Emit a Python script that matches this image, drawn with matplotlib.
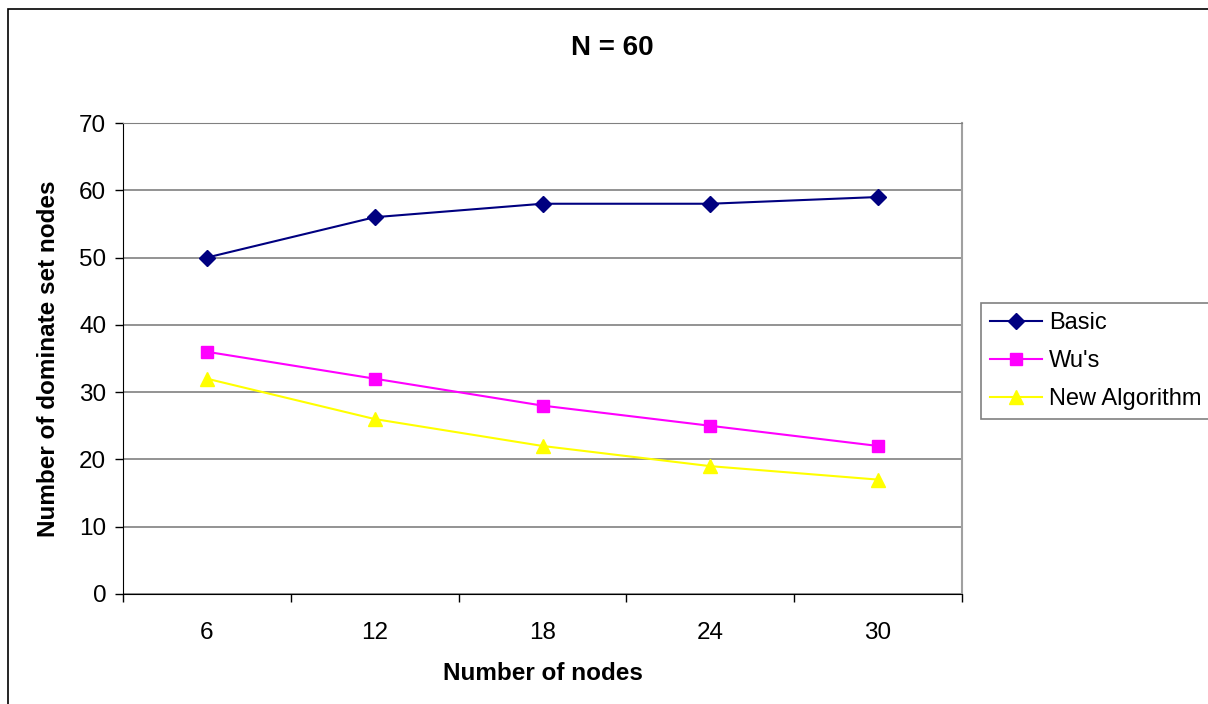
import matplotlib
matplotlib.use('Agg')
import matplotlib.pyplot as plt
from matplotlib.patches import Rectangle

plt.rcParams['font.family'] = ['Liberation Sans', 'DejaVu Sans']

# number of nodes (categories) and dominating set sizes per algorithm
nodes = ['6', '12', '18', '24', '30']
basic = [50, 56, 58, 58, 59]
wus = [36, 32, 28, 25, 22]
new_alg = [32, 26, 22, 19, 17]
y_ticks = [0, 10, 20, 30, 40, 50, 60, 70]


def main():
    fig = plt.figure(figsize=(12.08, 7.04), dpi=100)
    ax = fig.add_axes([123 / 1208, 1 - 594 / 704, (962 - 123) / 1208, (594 - 123) / 704])

    # outer chart border
    fig.patches.append(Rectangle((8 / 1208, -0.05), 1.2, 1 - 9 / 704 + 0.05,
                                 transform=fig.transFigure, fill=False,
                                 edgecolor='black', linewidth=1.2))

    x = list(range(len(nodes)))
    ax.plot(x, basic, color='#000080', marker='D', markersize=8.5, linewidth=1.5,
            label='Basic', zorder=3)
    ax.plot(x, wus, color='#FF00FF', marker='s', markersize=8.5, linewidth=1.5,
            label="Wu's", zorder=3)
    ax.plot(x, new_alg, color='#FFFF00', marker='^', markersize=10.5, linewidth=1.5,
            label='New Algorithm', zorder=3)

    ax.set_xlim(-0.5, len(nodes) - 0.5)
    ax.set_ylim(0, 70)
    ax.set_yticks(y_ticks)
    ax.set_xticks(x)
    ax.set_xticklabels(nodes)
    ax.set_xticks([i - 0.5 for i in range(len(nodes) + 1)], minor=True)
    ax.tick_params(axis='x', which='major', length=0, pad=20, labelsize=17.5)
    ax.tick_params(axis='x', which='minor', length=6, width=1, direction='out')
    ax.tick_params(axis='y', length=6, width=1, direction='out', labelsize=17.5, pad=6)

    ax.yaxis.grid(True, color='#808080', linewidth=1.2)
    ax.set_axisbelow(True)
    ax.spines['left'].set_color('black')
    ax.spines['bottom'].set_color('black')
    ax.spines['top'].set_color('#808080')
    ax.spines['right'].set_color('#a0a0a0')
    ax.spines['right'].set_linewidth(1.5)

    ax.set_xlabel('Number of nodes', fontsize=17.5, fontweight='bold', labelpad=13)
    ax.set_ylabel('Number of dominate set nodes', fontsize=17.5, fontweight='bold', labelpad=14)
    fig.text(612 / 1208, 1 - 48 / 704, 'N = 60', ha='center', va='center',
             fontsize=20, fontweight='bold')

    leg = ax.legend(loc='upper left', bbox_to_anchor=(981 / 1208, 1 - 303 / 704),
                    bbox_transform=fig.transFigure, fontsize=17, frameon=True,
                    fancybox=False, borderpad=0.38, handlelength=2.2,
                    handletextpad=0.3, labelspacing=0.68, borderaxespad=0)
    leg.get_frame().set_edgecolor('#606060')
    leg.get_frame().set_linewidth(1.2)

    fig.savefig('out.png', dpi=100)


if __name__ == "__main__":
    main()
